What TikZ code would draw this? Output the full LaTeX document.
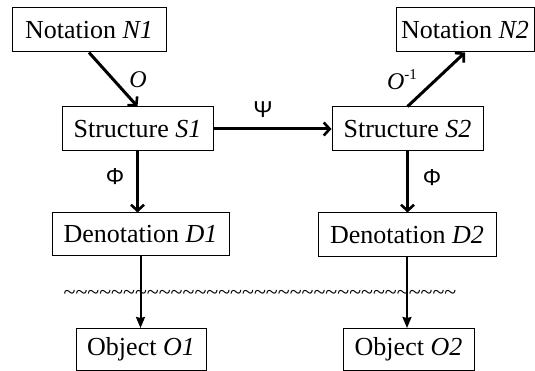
\documentclass[tikz,border=0pt]{standalone}
\usepackage{fontspec}
\setmainfont{Liberation Serif}
\newfontfamily\greekfont{Liberation Sans}
\usetikzlibrary{arrows.meta}
\def\tl{\textasciitilde}
\begin{document}
\begin{tikzpicture}[x=1pt,y=-1pt,
  box/.style={draw, line width=1pt, inner sep=0pt, minimum height=44pt,
              font=\fontsize{26}{30}\selectfont},
  thick arrow/.style={line width=3pt,
              -{Straight Barb[length=6pt,width=13pt,line width=2.6pt]}},
  thin arrow/.style={line width=2pt,
              -{Stealth[length=11pt,width=9pt,inset=1pt]}},
  lab/.style={inner sep=0pt, font=\fontsize{24}{28}\selectfont},
  glab/.style={inner sep=0pt, font=\greekfont\fontsize{23}{26}\selectfont}]
\useasboundingbox (0,0) rectangle (535,371);

% boxes
\node[box, minimum width=154pt] (n1) at (89,30)    {Notation \textit{N1}};
\node[box, minimum width=151pt] (s1) at (137.5,129) {Structure \textit{S1}};
\node[box, minimum width=177pt, minimum height=43pt] (d1) at (140.5,234.5) {Denotation \textit{D1}};
\node[box, minimum width=130pt, minimum height=42pt] (o1) at (141,349.5) {Object \textit{O1}};

\node[box, minimum width=138pt] (n2) at (465,30)    {Notation \textit{N2}};
\node[box, minimum width=151pt] (s2) at (407.5,129) {Structure \textit{S2}};
\node[box, minimum width=178pt] (d2) at (407,235)   {Denotation \textit{D2}};
\node[box, minimum width=131pt, minimum height=42pt] (o2) at (408.5,349.5) {Object \textit{O2}};

% wavy separator
\node[inner sep=0pt, font=\fontsize{22}{22}\selectfont] (wave) at (260,295)
  {\tl\tl\tl\tl\tl\tl\tl\tl\tl\tl\tl\tl\tl\tl\tl\tl\tl\tl\tl\tl\tl\tl\tl\tl\tl\tl\tl\tl\tl\tl\tl\tl\tl};

% connectors
\draw[thick arrow] (n1.south) -- (s1.north);
\draw[thick arrow] (s1.east) -- (s2.west);
\draw[thick arrow] (s2.north) -- (n2.south);
\draw[thick arrow] (s1.south) -- (s1.south |- d1.north);
\draw[thick arrow] (s2.south) -- (s2.south |- d2.north);
\draw[thin arrow] (d1.south) -- (d1.south |- o1.north);
\draw[thin arrow] (d2.south) -- (d2.south |- o2.north);

% labels
\node[lab] (lo) at (138,80) {\textit{O}};
\node[lab] (loinv) at (402,80) {\textit{O}\raisebox{0.42em}{\fontsize{15}{15}\selectfont -1}};
\node[glab] (lpsi) at (263,110) {Ψ};
\node[glab] (lphi1) at (115,177) {Φ};
\node[glab] (lphi2) at (432,178) {Φ};
\end{tikzpicture}
\end{document}
